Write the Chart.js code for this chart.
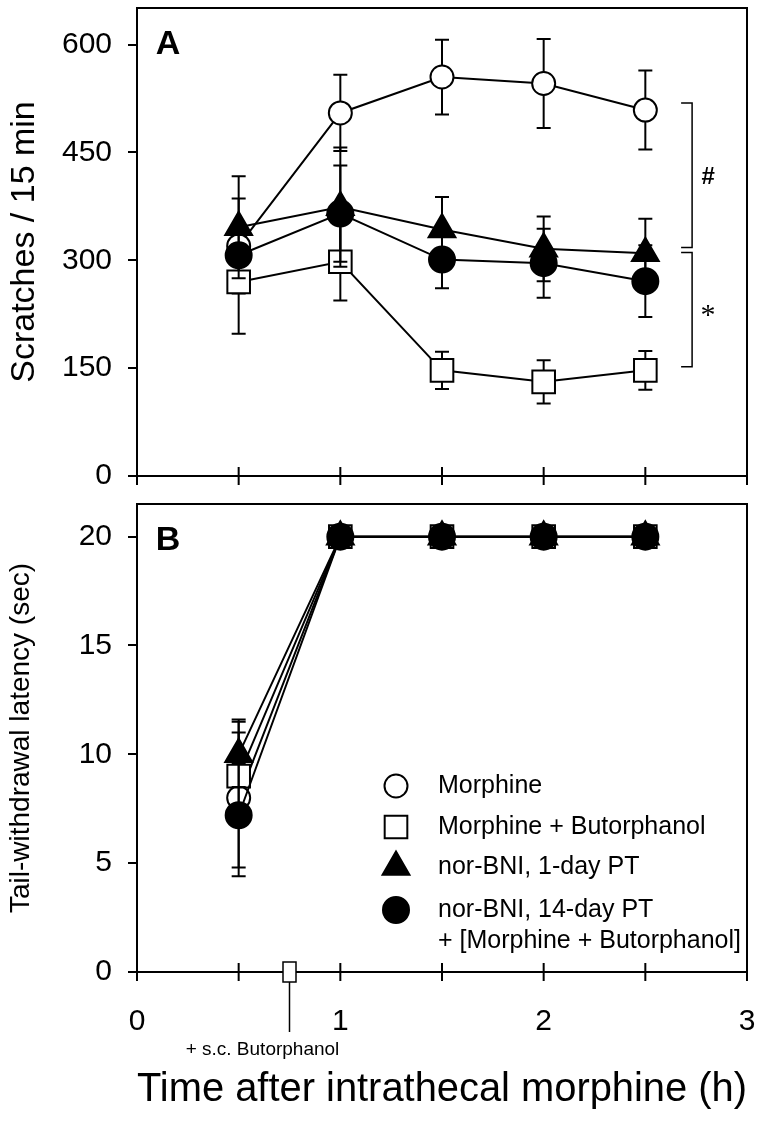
<!DOCTYPE html>
<html>
<head>
<meta charset="utf-8">
<title>Scratches and tail-withdrawal latency</title>
<script src="https://cdn.jsdelivr.net/npm/chart.js"></script>
<style>
  body { margin: 0; background: #fff; }
  #wrap { position: relative; width: 765px; height: 1128px; overflow: hidden; }
  #chartA { position: absolute; left: 0; top: -10px; }
  #chartB { position: absolute; left: 0; top: 486px; }
</style>
</head>
<body>
<div id="wrap">
  <canvas id="chartA" width="765" height="510"></canvas>
  <canvas id="chartB" width="765" height="642"></canvas>
</div>
<script>
// time points (h after intrathecal morphine)
var hours = [0.5, 1, 1.5, 2, 2.5];

// panel A: scratches / 15 min, mean and error
var morphineA = [320, 505, 555, 546, 509];
var morphineA_err = [66, 53, 52, 62, 55];
var butorA = [270, 298, 147, 131, 147];
var butorA_err = [72, 54, 26, 30, 27];
var norbni1A = [346, 374, 343, 316, 310];
var norbni1A_err = [71, 83, 45, 45, 48];
var norbni14A = [307, 365, 301, 296, 271];
var norbni14A_err = [15, 67, 40, 48, 50];

// panel B: tail-withdrawal latency (sec)
var morphineB = [8.0, 20, 20, 20, 20];
var morphineB_err = [3.6, 0, 0, 0, 0];
var butorB = [9.0, 20, 20, 20, 20];
var butorB_err = [2.0, 0, 0, 0, 0];
var norbni1B = [10.0, 20, 20, 20, 20];
var norbni1B_err = [1.5, 0, 0, 0, 0];
var norbni14B = [7.2, 20, 20, 20, 20];
var norbni14B_err = [2.4, 0, 0, 0, 0];

var yTicksA = [0, 150, 300, 450, 600];
var yTicksB = [0, 5, 10, 15, 20];
var xTickMarks = [0, 0.5, 1, 1.5, 2, 2.5, 3];
var xLabelsB = [0, 1, 2, 3];

var legendLabels = ['Morphine', 'Morphine + Butorphanol', 'nor-BNI, 1-day PT', ['nor-BNI, 14-day PT', '+ [Morphine + Butorphanol]']];

// significance brackets in panel A: [top, bottom] in scratches
var bracketHash = [519, 318];
var bracketStar = [311, 152];
var butorphanolTime = 0.75;

var FONT = '"Liberation Sans", Arial, Helvetica, sans-serif';
Chart.defaults.font.family = FONT;
Chart.defaults.color = '#000';

function pts(ys) {
    return hours.map(function (t, i) { return { x: t, y: ys[i] }; });
}

var styles = [
    { label: legendLabels[0], pointStyle: 'circle', radius: 11.5, fill: '#fff', order: 4 },
    { label: legendLabels[1], pointStyle: 'rect', radius: 16, fill: '#fff', order: 3 },
    { label: legendLabels[2], pointStyle: 'triangle', radius: 15.5, fill: '#000', order: 2 },
    { label: legendLabels[3], pointStyle: 'circle', radius: 13, fill: '#000', order: 1 }
];

function makeSets(series, errs) {
    return series.map(function (s, k) {
        var st = styles[k];
        return {
            label: st.label,
            data: pts(s),
            errors: errs[k],
            order: st.order,
            borderColor: '#000',
            borderWidth: 2,
            tension: 0,
            fill: false,
            pointStyle: st.pointStyle,
            pointRadius: st.radius,
            pointBorderWidth: 2,
            pointBorderColor: '#000',
            pointBackgroundColor: st.fill
        };
    });
}

function shape(ctx, st, x, y) {
    ctx.save();
    ctx.fillStyle = st.fill;
    ctx.strokeStyle = '#000';
    ctx.lineWidth = 2;
    if (Chart.helpers && Chart.helpers.drawPoint) {
        Chart.helpers.drawPoint(ctx, { pointStyle: st.pointStyle, radius: st.radius, rotation: 0, borderWidth: 2 }, x, y);
    } else {
        ctx.beginPath();
        ctx.arc(x, y, st.radius, 0, Math.PI * 2);
        ctx.fill(); ctx.stroke();
    }
    ctx.restore();
}

function noPad(s) {
    s.paddingTop = 0; s.paddingBottom = 0; s.paddingLeft = 0; s.paddingRight = 0;
}

var panelPlugin = {
    id: 'panel',
    beforeDatasetDraw: function (chart, args) {
        var ds = chart.data.datasets[args.index];
        if (!ds.errors) return;
        var ctx = chart.ctx, xs = chart.scales.x, ys = chart.scales.y;
        ctx.save();
        ctx.strokeStyle = '#000';
        ctx.lineWidth = 2;
        ds.data.forEach(function (p, i) {
            var e = ds.errors[i];
            if (!e) return;
            var px = xs.getPixelForValue(p.x);
            var top = ys.getPixelForValue(p.y + e);
            var bot = ys.getPixelForValue(p.y - e);
            ctx.beginPath();
            ctx.moveTo(px, top); ctx.lineTo(px, bot);
            ctx.moveTo(px - 7, top); ctx.lineTo(px + 7, top);
            ctx.moveTo(px - 7, bot); ctx.lineTo(px + 7, bot);
            ctx.stroke();
        });
        ctx.restore();
    },
    afterDraw: function (chart, args, opts) {
        var ctx = chart.ctx, a = chart.chartArea, xs = chart.scales.x, ys = chart.scales.y;
        ctx.save();
        ctx.strokeStyle = '#000';
        ctx.lineWidth = 2;
        ctx.strokeRect(a.left, a.top, a.right - a.left, a.bottom - a.top);
        // x ticks crossing the bottom axis
        ctx.beginPath();
        xTickMarks.forEach(function (v) {
            var px = xs.getPixelForValue(v);
            ctx.moveTo(px, a.bottom - 9); ctx.lineTo(px, a.bottom + 9);
        });
        ctx.moveTo(a.left - 9, a.bottom); ctx.lineTo(a.left, a.bottom);
        ctx.stroke();
        // panel letter
        ctx.fillStyle = '#000';
        ctx.font = 'bold 34px ' + FONT;
        ctx.textAlign = 'center';
        ctx.textBaseline = 'middle';
        ctx.fillText(opts.letter, a.left + 31, a.top + 37);

        if (opts.letter === 'A') {
            ctx.lineWidth = 1.5;
            [bracketHash, bracketStar].forEach(function (b, k) {
                var bx = xs.getPixelForValue(2.73);
                var t = ys.getPixelForValue(b[0]), u = ys.getPixelForValue(b[1]);
                ctx.beginPath();
                ctx.moveTo(bx - 11, t); ctx.lineTo(bx, t); ctx.lineTo(bx, u); ctx.lineTo(bx - 11, u);
                ctx.stroke();
                if (k === 0) {
                    ctx.font = 'bold 24px ' + FONT;
                    ctx.fillText('#', bx + 16, (t + u) / 2 + 2);
                } else {
                    ctx.font = '30px "Liberation Serif", "Times New Roman", serif';
                    ctx.fillText('*', bx + 16, (t + u) / 2 + 7);
                }
            });
        } else {
            // s.c. butorphanol marker
            var bx2 = xs.getPixelForValue(butorphanolTime), by = ys.getPixelForValue(0);
            ctx.lineWidth = 1.5;
            ctx.fillStyle = '#fff';
            ctx.fillRect(bx2 - 6.5, by - 10, 13, 20);
            ctx.strokeRect(bx2 - 6.5, by - 10, 13, 20);
            ctx.beginPath();
            ctx.moveTo(bx2, by + 10); ctx.lineTo(bx2, by + 60);
            ctx.stroke();
            ctx.fillStyle = '#000';
            ctx.font = '19px ' + FONT;
            ctx.textAlign = 'center';
            ctx.fillText('+ s.c. Butorphanol', bx2 - 27, by + 78);

            // legend (rows measured from the top of this canvas)
            var lx = 396, tx = 438, rows = [300, 341, 381, 424];
            ctx.font = '25px ' + FONT;
            ctx.textAlign = 'left';
            styles.forEach(function (st, k) {
                var yy = rows[k];
                shape(ctx, st, lx, yy);
                ctx.fillStyle = '#000';
                var lab = legendLabels[k];
                if (Array.isArray(lab)) {
                    ctx.fillText(lab[0], tx, yy);
                    ctx.fillText(lab[1], tx, yy + 31);
                } else {
                    ctx.fillText(lab, tx, yy);
                }
            });
        }
        ctx.restore();
    }
};

function yAxis(max, ticks, title, titleSize) {
    return {
        type: 'linear',
        min: 0,
        max: max,
        afterBuildTicks: function (s) { s.ticks = ticks.map(function (v) { return { value: v }; }); },
        ticks: { font: { size: 30 }, padding: 16, color: '#000' },
        grid: { drawOnChartArea: false, drawTicks: true, tickLength: 9, color: '#000', lineWidth: 2 },
        border: { display: false },
        title: { display: true, text: title, font: { size: titleSize }, padding: { top: 4 }, color: '#000' },
        afterFit: function (s) { s.width = 137; noPad(s); }
    };
}

var chartA = new Chart(document.getElementById('chartA'), {
    type: 'line',
    data: { datasets: makeSets([morphineA, butorA, norbni1A, norbni14A], [morphineA_err, butorA_err, norbni1A_err, norbni14A_err]) },
    options: {
        responsive: false,
        animation: false,
        events: [],
        layout: { padding: { top: 0, right: 17, left: 0, bottom: 0 } },
        plugins: { legend: { display: false }, tooltip: { enabled: false }, panel: { letter: 'A' } },
        scales: {
            x: {
                type: 'linear', min: 0, max: 3,
                ticks: { display: false },
                grid: { display: false },
                border: { display: false },
                afterFit: function (s) { s.height = 24; noPad(s); }
            },
            y: yAxis(651, yTicksA, 'Scratches / 15 min', 34)
        }
    },
    plugins: [panelPlugin]
});

var chartB = new Chart(document.getElementById('chartB'), {
    type: 'line',
    data: { datasets: makeSets([morphineB, butorB, norbni1B, norbni14B], [morphineB_err, butorB_err, norbni1B_err, norbni14B_err]) },
    options: {
        responsive: false,
        animation: false,
        events: [],
        layout: { padding: { top: 0, right: 17, left: 0, bottom: 0 } },
        plugins: { legend: { display: false }, tooltip: { enabled: false }, panel: { letter: 'B' } },
        scales: {
            x: {
                type: 'linear', min: 0, max: 3,
                afterBuildTicks: function (s) { s.ticks = xLabelsB.map(function (v) { return { value: v }; }); },
                ticks: { font: { size: 30 }, padding: 32, color: '#000' },
                grid: { display: false, drawTicks: false },
                border: { display: false },
                title: { display: true, text: 'Time after intrathecal morphine (h)', font: { size: 40 }, padding: { bottom: 14 }, color: '#000' },
                afterFit: function (s) { s.height = 156; noPad(s); }
            },
            y: yAxis(21.5, yTicksB, 'Tail-withdrawal latency (sec)', 28)
        }
    },
    plugins: [panelPlugin]
});
</script>
</body>
</html>
